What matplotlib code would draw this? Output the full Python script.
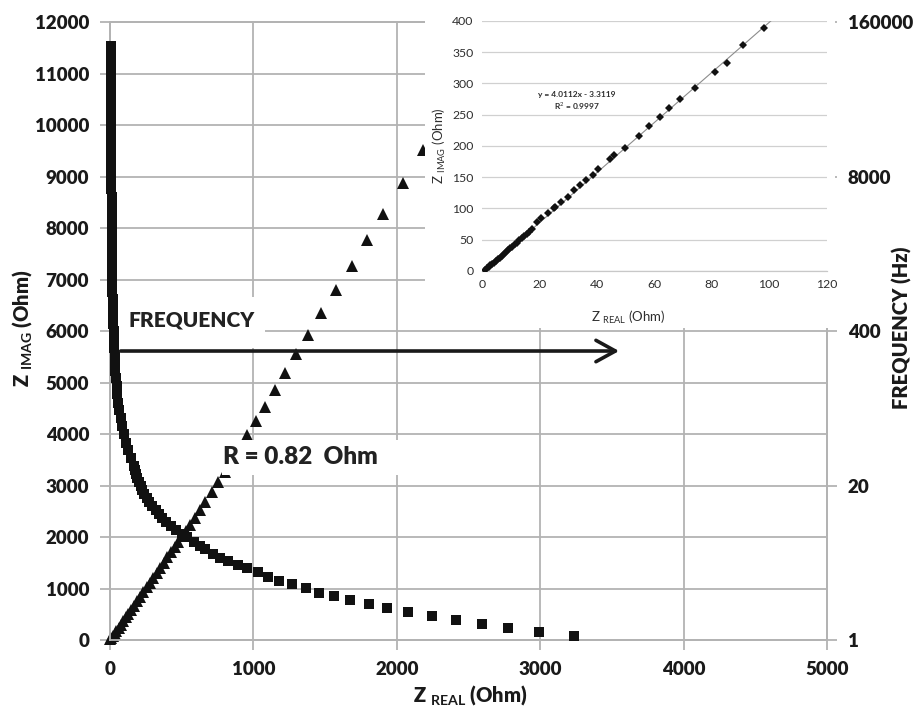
import numpy as np
import matplotlib as mpl; mpl.use("Agg")
import matplotlib.pyplot as plt
from matplotlib.patches import Rectangle
from matplotlib.ticker import MultipleLocator

plt.rcParams.update({
  "font.family":["Lato","DejaVu Sans"],"font.weight":"heavy",
  "mathtext.fontset":"custom","mathtext.rm":"Lato:normal","mathtext.bf":"Lato:bold",
  "axes.linewidth":1.2})

# squares: frequency (Hz, right log axis) vs Z_real (Ohm)
sq_f=[100000,86000,74000,63000,54000,46000,40000,34000,29000,25000,21500,18500,16000,13700,11800,10000,
      8600,7400,6300,5400,4600,4000,3400,2900,2500,2150,1850,1600,1370,1180,1000,
      860,740,630,540,460,400,340,290,250,215,185,160,137,118,100,
      86,74,63,54,46,40,34,
      29,26.9,24.9,23.0,21.3,19.7,18.3,16.9,15.7,14.5,13.4,12.4,11.5,10.7,9.9,9.1,8.5,7.8,7.3,6.7,6.2,5.8,5.35,4.95,
      4.65,4.28,4.02,3.76,3.42,3.16,2.94,2.72,2.50,2.35,2.17,2.01,1.86,1.71,1.59,1.47,1.36,1.26,1.17,1.08]
sq_x=[6,6,6.5,6.5,7,7,7.5,7.5,8,8,8.5,8.5,9,9,9.5,9.5,
      10,10,10.5,11,11,11.5,12,12.5,13,13.5,14,14,14.5,15,15.5,
      17,18,20,22,24,26,28,30,32,34,38,42,47,52,58,
      66,75,85,97,110,125,145,
      165,173,182,191,201,213,225,240,256,275,295,318,342,365,393,428,457,502,537,585,628,665,715,770,
      825,895,953,1030,1104,1181,1269,1365,1460,1560,1671,1804,1929,2078,2245,2411,2596,2776,2994,3236]

# triangles: Z_imag vs Z_real (Ohm)
tri_x=[3,10,20,32,45,60,75,92,110,128,147,167,188,210,232,255,278,302,326,350,375,400,425,450,476,502,530,558,593,
       628,662,709,755,800,850,900,953,1018,1081,1151,1220,1297,1379,1471,1576,1690,1794,1906,2045,2181,2330,2490]
tri_y=[10,38,78,126,178,238,298,366,438,510,587,667,751,840,928,1020,1113,1210,1306,1403,1503,1604,1705,1806,1910,2012,2120,2225,2360,
       2524,2686,2880,3074,3260,3470,3700,3981,4258,4530,4854,5190,5553,5917,6344,6796,7262,7767,8266,8868,9515,10150,10850]

# inset: low-impedance detail
in_x=[1.2,1.8,2.4,3.0,3.6,4.2,4.9,5.5,6.2,6.9,7.6,8.3,9.0,9.8,10.6,11.4,12.2,13.0,13.9,14.8,15.7,16.6,17.6,
      19.1,20.5,23.1,25.0,25.5,27.7,30.0,32.2,34.3,36.3,38.6,40.6,44.5,46.1,50.0,54.6,58.2,62.0,65.2,68.9,74.3,81.3,85.4,90.8,98.1]
in_y=[1.5,4.0,6.5,9.0,11.0,13.5,16.5,19.0,21.5,24.5,27.0,30.0,33.0,36.0,39.0,42.5,45.5,49.0,52.5,56.0,59.5,63.0,67.0,
      78,84,92,101,103,110,119,129,137,145,154,163,179,186,197,216,232,246,261,275,292,318,332,361,388]
fit_slope,fit_icpt,fit_r2=4.0112,-3.3119,0.9997

x_ticks=[0,1000,2000,3000,4000,5000]
y_ticks=[0,1000,2000,3000,4000,5000,6000,7000,8000,9000,10000,11000,12000]
freq_ticks=[1,20,400,8000,160000]
in_xticks=[0,20,40,60,80,100,120]
in_yticks=[0,50,100,150,200,250,300,350,400]
GRID="#b3b3b3"; INK="#111111"; TXT="#1a1a1a"; ITXT="#2e2e2e"

fig=plt.figure(figsize=(9.15,7.09),dpi=100)
ax=fig.add_axes([0.1202,0.0973,0.7836,0.8716])
ax.set_xlim(0,5000); ax.set_ylim(0,12000)
ax.set_xticks(x_ticks,[str(v) for v in x_ticks])
ax.set_yticks(y_ticks,[str(v) for v in y_ticks])
ax.xaxis.set_minor_locator(MultipleLocator(500))
ax.grid(True,which="major",color=GRID,lw=1.3); ax.grid(True,which="minor",axis="x",color=GRID,lw=1.3)
ax.set_axisbelow(True)
for s in ax.spines.values(): s.set_color(GRID); s.set_linewidth(1.3)
ax.tick_params(which="major",direction="out",length=7,width=1.3,color=GRID,pad=8,labelsize=13.5,labelcolor=TXT)
ax.tick_params(which="minor",length=0)
fig.text(470/915,1-695/709,r"Z $_{\mathbf{REAL}}$ (Ohm)",fontsize=14.5,color=TXT,ha="center",va="center")
fig.text(22/915,1-328/709,r"Z $_{\mathbf{IMAG}}$ (Ohm)",fontsize=14.5,color=TXT,ha="center",va="center",rotation=90)
fig.text(902/915,1-328/709,"FREQUENCY (Hz)",fontsize=14.5,color=TXT,ha="center",va="center",rotation=90)

ax.plot(tri_x,tri_y,"^",ms=9,color=INK,mec=INK,mew=0,zorder=3,clip_on=False)

# text boxes
ax.add_patch(Rectangle((0,5670),1080,990,fc="white",ec="none",zorder=2))
ax.text(130,6214,"FREQUENCY",fontsize=15,color="#222222",va="center",zorder=5)
ax.add_patch(Rectangle((781,3204),1227,679,fc="white",ec="none",zorder=4))
ax.text(790,3553,"R = 0.82  Ohm",fontsize=17.5,color="#222222",va="center",zorder=5)

ax2=ax.twinx()
ax2.set_yscale("log"); ax2.set_ylim(1,160000)
ax2.set_yticks(freq_ticks,[str(v) for v in freq_ticks])
ax2.minorticks_off()
for s in ax2.spines.values(): s.set_color(GRID); s.set_linewidth(1.3)
ax2.tick_params(direction="out",length=7,width=1.3,color=GRID,pad=8,labelsize=13.5,labelcolor=TXT)
ax2.plot(sq_x,sq_f,"s",ms=7.3,color=INK,mec=INK,mew=0,zorder=3,clip_on=False)
ax2.annotate("",xy=(3570,5612),xytext=(55,5612),xycoords=ax.transData,textcoords=ax.transData,
             arrowprops=dict(arrowstyle="->,head_length=0.4,head_width=0.22",lw=2.6,color="#1a1a1a",mutation_scale=35))

# white ground behind the inset
fig.add_artist(Rectangle((425/915,1-328/709),(835-425)/915,328/709,transform=fig.transFigure,
                         fc="white",ec="none",zorder=1))

axi=fig.add_axes([0.5265,0.6178,0.377,0.3526],zorder=2)
axi.set_xlim(0,120); axi.set_ylim(0,400)
axi.set_xticks(in_xticks,[str(v) for v in in_xticks])
axi.set_yticks(in_yticks,[str(v) for v in in_yticks])
axi.grid(True,axis="y",color="#d0d0d0",lw=0.9); axi.set_axisbelow(True)
for k in ["left","right","top"]: axi.spines[k].set_visible(False)
axi.spines["bottom"].set_color("#c8c8c8"); axi.spines["bottom"].set_linewidth(0.9)
axi.tick_params(length=0,pad=6,labelsize=8.8,labelcolor=ITXT)
axi.set_xlabel(r"Z $_{\mathrm{REAL}}$ (Ohm)",fontsize=9.5,fontweight="normal",color=ITXT,labelpad=8)
axi.set_ylabel(r"Z $_{\mathrm{IMAG}}$ (Ohm)",fontsize=9.5,fontweight="normal",color=ITXT,labelpad=3)
axi.xaxis.set_label_coords(0.424,-0.15)
xx=np.array([0,120.])
axi.plot(xx,fit_slope*xx+fit_icpt,"-",color="#8c8c8c",lw=0.8,zorder=2)
axi.plot(in_x,in_y,"D",ms=3.6,color=INK,mew=0,zorder=3)
axi.text(33,282,f"y = {fit_slope:.4f}x - {abs(fit_icpt):.4f}",fontsize=6,fontweight="bold",ha="center",va="center",color=ITXT)
axi.text(33,263,f"R$^2$ = {fit_r2:.4f}",fontsize=6,fontweight="bold",ha="center",va="center",color=ITXT)
for t in axi.get_xticklabels()+axi.get_yticklabels(): t.set_fontweight("normal")

fig.savefig("out.png",dpi=100)
